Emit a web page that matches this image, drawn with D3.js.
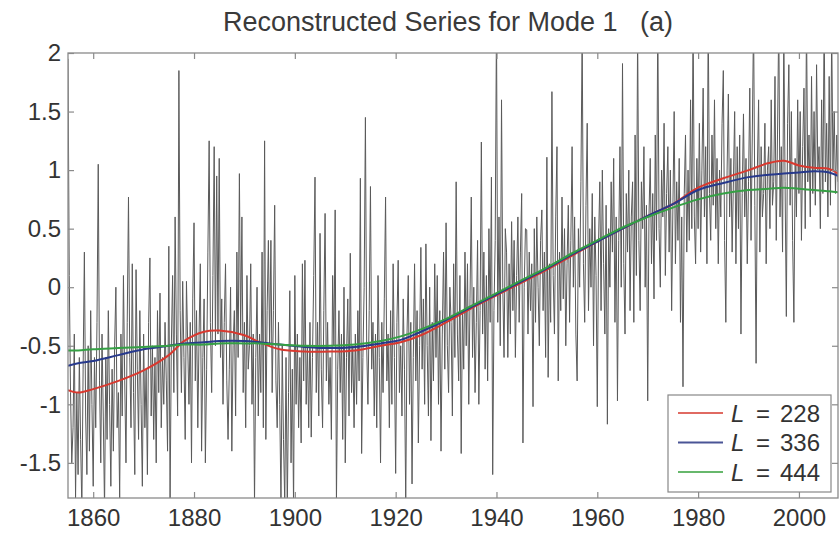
<!DOCTYPE html>
<html>
<head>
<meta charset="utf-8">
<script src="https://cdn.jsdelivr.net/npm/d3@7"></script>
<style>
  html, body { margin: 0; padding: 0; background: #fff; }
  svg { display: block; font-family: "Liberation Sans", Arial, Helvetica, sans-serif; }
</style>
</head>
<body>
<svg id="chart" width="840" height="536"></svg>
<script>
// ---- data ---------------------------------------------------------------
const chartTitle = "Reconstructed Series for Mode 1   (a)";
const xTicks = [1860, 1880, 1900, 1920, 1940, 1960, 1980, 2000];
const yTicks = [-1.5, -1, -0.5, 0, 0.5, 1, 1.5, 2];
const yTickLabels = ["-1.5", "-1", "-0.5", "0", "0.5", "1", "1.5", "2"];

// reconstructed series, four samples per year starting 1855.0
const seriesStart = 1855;
const samplesPerYear = 4;
const series = [
  // 1855-1859
  1.95, 0.1, -0.9, -1.5,  -1.2, -0.4, -1.8, -0.9,  -1.6, -0.6, -1.3, -1.9,  -0.7, 0.3, -1.1, -1.6,  -0.5, -1.4, -0.2, -1.0,
  // 1860-1864
  -1.7, -0.6, -1.2, -0.3,  1.05, -0.8, -1.5, -0.4,  -1.1, -1.9, -0.6, -1.3,  -0.2, -1.0, -1.7, -0.7,  -1.4, -0.5, 0.0, -1.2,
  // 1865-1869
  -0.9, -1.8, -0.4, -1.1,  0.1, -0.8, -1.5, -0.3,  0.77, -0.6, -1.2, 0.2,  -0.9, -1.6, 0.15, -0.7,  -1.3, -0.2, -1.0, -1.7,
  // 1870-1874
  -0.4, -1.2, -0.7, -1.6,  -0.3, 0.25, -1.1, -0.5,  -1.3, -0.6, -1.5, -0.2,  -0.9, -0.05, -1.2, -0.6,  -1.0, -0.3, -0.8, -1.4,
  // 1875-1879
  0.35, -1.85, -0.5, 0.1,  -0.9, 0.6, -0.4, -1.1,  1.85, -0.2, -0.9, 0.05,  -0.6, -1.3, 0.05, -0.5,  -1.0, -0.3, -1.5, -0.1,
  // 1880-1884
  0.55, -0.8, -0.2, -1.2,  -0.4, 0.2, -1.4, -0.6,  -0.1, -1.5, -0.7, 0.3,  1.25, -0.3, -0.9, 0.1,  1.2, -0.5, 0.95, -0.4,
  // 1885-1889
  1.1, -0.6, -0.1, -1.0,  -0.3, 0.2, -0.8, -1.3,  -0.7, 0.0, -1.4, -0.5,  -0.2, -1.1, 0.3, -0.6,  0.97, -0.4, 0.6, -0.9,
  // 1890-1894
  -0.3, -1.2, 0.1, -0.7,  -0.5, 0.2, -1.0, -0.4,  -1.85, -0.6, 0.0, -1.1,  -0.4, -0.9, 0.3, -1.2,  1.25, -1.3, -0.2, 0.4,
  // 1895-1899
  -0.5, 0.4, -0.9, -0.2,  0.7, -0.8, -1.2, -0.3,  -1.0, -1.85, -0.5, -1.3,  -1.85, -0.6, -1.9, -0.9,  -0.03, -1.5, -0.7, -1.9,
  // 1900-1904
  0.1, -1.0, -0.4, -1.2,  -0.6, -1.33, 0.2, -0.8,  0.23, -1.0, -0.5, -1.2,  -0.3, -1.28, -0.6, 0.1,  0.94, -0.9, -0.3, -1.1,
  // 1905-1909
  0.46, -0.7, -1.2, -0.2,  0.63, -0.8, -0.3, -1.0,  -0.6, -1.3, 0.1, -0.5,  0.66, -1.85, -0.7, -0.2,  -0.9, -0.4, -1.3, 0.0,
  // 1910-1914
  -1.5, -0.6, -0.1, -1.1,  0.29, -0.9, -0.5, -1.2,  -0.4, -1.0, -0.2, -0.8,  0.93, -1.42, -0.6, 0.0,  1.45, -0.5, -1.0, -0.2,
  // 1915-1919
  0.86, -0.7, -0.3, -1.1,  -0.4, -1.2, 0.1, -0.6,  -1.5, -0.3, -0.9, -0.1,  0.77, -0.8, -0.4, -1.2,  -0.2, -1.0, 0.2, -0.6,
  // 1920-1924
  -1.59, -0.3, 0.23, -0.9,  -0.5, -1.1, -0.1, -0.7,  -1.85, -0.4, 0.1, -1.0,  -0.3, -1.68, -0.6, 0.2,  -0.8, -0.2, -1.33, -0.5,
  // 1925-1929
  0.34, -0.7, -0.1, -1.0,  0.37, -0.5, -1.1, 0.0,  -1.31, -0.3, -0.8, 0.2,  -0.6, 0.1, -1.0, -0.2,  -1.4, -0.4, 0.3, -0.7,
  // 1930-1934
  0.55, -0.5, -0.9, 0.0,  -0.3, -1.1, 0.2, -0.6,  0.9, -0.4, -0.8, 0.1,  -1.42, -0.2, -0.7, 0.3,  -0.5, 0.2, -1.0, -0.1,
  // 1935-1939
  0.77, -0.6, 0.0, -0.9,  -0.3, 0.4, -1.0, -0.2,  1.24, -0.4, 0.3, -0.7,  0.1, -0.8, 0.5, -0.3,  0.94, -1.6, -0.2, 0.4,
  // 1940-1944
  2.3, -0.3, 0.6, -0.5,  1.6, 0.0, -0.6, 0.5,  0.3, -0.6, 0.2, -0.4,  0.56, -0.2, 0.4, -0.6,  0.1, 0.6, -0.3, 0.3,
  // 1945-1949
  0.8, -1.33, 0.0, 0.5,  0.49, -0.4, 0.3, -0.2,  0.2, -1.02, 0.5, -0.3,  0.6, 0.0, -0.5, 0.4,  0.66, -0.2, 0.3, -0.6,
  // 1950-1954
  1.11, -0.77, 0.2, -0.3,  1.67, 0.1, -0.4, 0.6,  1.2, -0.8, 0.3, -0.2,  0.77, -0.1, 0.5, -0.5,  0.2, 0.7, -0.3, 0.4,
  // 1955-1959
  1.2, 0.0, 0.6, -0.4,  -0.8, 0.5, 0.0, 0.9,  2.2, 0.2, -0.3, 0.7,  1.4, -0.2, 0.5, 0.0,  0.8, -0.5, 0.6, 0.1,
  // 1960-1964
  -1.02, 0.4, 0.9, -0.2,  1.0, 0.2, -0.4, 0.7,  -1.17, 0.5, 0.0, 0.9,  0.3, 1.1, -0.3, 0.6,  -0.97, 0.4, 1.2, 0.0,
  // 1965-1969
  1.91, 0.2, -0.4, 0.8,  0.3, 1.0, -0.2, 0.6,  0.9, -0.3, 1.3, 0.1,  2.2, 0.4, -0.2, 0.9,  0.5, 1.2, 0.0, 0.7,
  // 1970-1974
  -0.97, 0.6, 1.1, 0.2,  0.8, -0.1, 1.3, 0.4,  2.3, 0.5, 0.0, 1.0,  0.6, 1.4, 0.1, 0.8,  1.2, 0.3, 1.0, -0.2,
  // 1975-1979
  0.7, 1.5, 0.2, 0.9,  0.4, 1.1, -0.3, 0.6,  -0.85, 0.8, 1.3, 0.3,  1.0, 0.4, 1.6, 0.5,  2.3, 0.6, 0.2, 1.1,
  // 1980-1984
  0.5, 1.4, 0.3, 1.0,  1.7, 0.6, 1.2, 0.2,  2.3, 0.8, 0.4, 1.3,  0.7, 1.6, 0.5, 1.1,  0.2, 1.0, 0.6, 1.4,
  // 1985-1989
  1.85, 0.4, -0.3, 1.0,  1.65, 0.6, 1.1, 0.3,  0.9, 1.5, 0.2, 1.2,  0.5, 1.3, -0.4, 0.8,  1.48, 0.6, 1.1, 0.2,
  // 1990-1994
  0.9, 1.7, 0.4, 1.3,  2.3, 0.7, -0.65, 1.0,  1.6, 0.3, 1.2, 0.6,  0.8, 1.4, 0.2, 1.0,  1.2, 0.5, 1.6, 0.7,
  // 1995-1999
  0.9, 1.8, 0.4, 1.3,  2.3, 0.6, 1.2, 0.3,  2.2, 0.9, -0.25, 1.4,  1.9, 0.7, 1.5, 0.4,  -0.3, 1.1, 0.6, 1.6,
  // 2000-2004
  0.8, 1.5, 0.4, 1.2,  1.7, 0.5, 2.3, 0.9,  1.3, 0.6, 1.8, 0.8,  1.5, 0.7, 1.9, 1.0,  1.2, 0.5, 1.6, 0.8,
  // 2005-2007
  2.3, 0.9, 1.4, 0.6,  1.8, 0.7, 2.2, 1.0,  1.5, 0.8, 1.3, 0.9
];

// smoothed reconstructions for three window lengths
const smoothYears = [1855, 1857, 1860, 1865, 1870, 1875, 1878, 1882, 1885, 1890, 1893, 1897,
  1902, 1907, 1912, 1917, 1921, 1925, 1930, 1935, 1940, 1945, 1950, 1955, 1960, 1965,
  1970, 1975, 1980, 1985, 1990, 1994, 1997, 2000, 2003, 2006, 2007.75];
const l228 = [-0.88, -0.90, -0.87, -0.80, -0.71, -0.58, -0.46, -0.38, -0.37, -0.41, -0.47, -0.53,
  -0.55, -0.55, -0.54, -0.50, -0.47, -0.41, -0.30, -0.18, -0.07, 0.04, 0.15, 0.27, 0.39, 0.50,
  0.61, 0.71, 0.85, 0.93, 1.00, 1.06, 1.08, 1.04, 1.02, 1.01, 0.97];
const l336 = [-0.67, -0.65, -0.63, -0.58, -0.53, -0.50, -0.48, -0.47, -0.46, -0.46, -0.47, -0.49,
  -0.51, -0.52, -0.51, -0.48, -0.45, -0.38, -0.28, -0.17, -0.06, 0.05, 0.16, 0.28, 0.39, 0.50,
  0.61, 0.71, 0.83, 0.89, 0.94, 0.96, 0.97, 0.98, 0.99, 0.98, 0.95];
const l444 = [-0.54, -0.54, -0.53, -0.52, -0.51, -0.50, -0.49, -0.49, -0.48, -0.48, -0.48, -0.49,
  -0.50, -0.50, -0.49, -0.46, -0.42, -0.36, -0.27, -0.16, -0.05, 0.06, 0.17, 0.29, 0.40, 0.51,
  0.60, 0.68, 0.75, 0.80, 0.83, 0.84, 0.85, 0.84, 0.83, 0.82, 0.81];
const windowLengths = ["228", "336", "444"];
const lineColors = ["#d8392f", "#27398c", "#35a044"];
const legendColors = ["#e06a62", "#4a5596", "#67b86c"];

// ---- layout -------------------------------------------------------------
const plot = { left: 68, right: 838, top: 53, bottom: 498 };
const svg = d3.select("#chart");

const x = d3.scaleLinear().domain([1855, 2007.75]).range([plot.left, plot.right]);
const y = d3.scaleLinear().domain([-1.8, 2]).range([plot.bottom, plot.top]);

svg.append("defs").append("clipPath").attr("id", "plot-clip")
  .append("rect")
  .attr("x", plot.left).attr("y", plot.top)
  .attr("width", plot.right - plot.left).attr("height", plot.bottom - plot.top);

// title
svg.append("text")
  .attr("x", 448).attr("y", 31)
  .attr("text-anchor", "middle")
  .style("white-space", "pre")
  .attr("font-size", 27)
  .attr("fill", "#3a3a3a")
  .text(chartTitle);

// noisy reconstructed series
const seriesPoints = series.map((v, i) => [seriesStart + i / samplesPerYear, v]);
const g = svg.append("g").attr("clip-path", "url(#plot-clip)");
g.append("path")
  .datum(seriesPoints)
  .attr("fill", "none")
  .attr("stroke", "#5a5a5a")
  .attr("stroke-width", 1)
  .attr("stroke-linejoin", "round")
  .attr("d", d3.line().x(d => x(d[0])).y(d => y(d[1])));

// smoothed curves
const smoothLine = d3.line()
  .x(d => x(d[0])).y(d => y(d[1]))
  .curve(d3.curveCatmullRom.alpha(0.5));
[l228, l336, l444].forEach((vals, k) => {
  g.append("path")
    .datum(vals.map((v, i) => [smoothYears[i], v]))
    .attr("fill", "none")
    .attr("stroke", lineColors[k])
    .attr("stroke-width", 2)
    .attr("d", smoothLine);
});

// axes (box with inward ticks)
const axisColor = "#8a8a8a";
const labelColor = "#333";

function styleAxis(sel) {
  sel.select(".domain").remove();
  sel.selectAll(".tick line").attr("stroke", axisColor).attr("stroke-width", 1.2);
  sel.selectAll(".tick text").attr("fill", labelColor).attr("font-size", 24)
    .attr("font-family", "'Liberation Sans', Arial, sans-serif");
}

svg.append("g")
  .attr("transform", `translate(0,${plot.bottom})`)
  .call(d3.axisBottom(x).tickValues(xTicks).tickFormat(d3.format("d"))
    .tickSizeInner(-6).tickSizeOuter(0).tickPadding(11))
  .call(styleAxis);

svg.append("g")
  .attr("transform", `translate(0,${plot.top})`)
  .call(d3.axisTop(x).tickValues(xTicks).tickFormat("")
    .tickSizeInner(-6).tickSizeOuter(0))
  .call(styleAxis);

svg.append("g")
  .attr("transform", `translate(${plot.left},0)`)
  .call(d3.axisLeft(y).tickValues(yTicks).tickFormat((d, i) => yTickLabels[i])
    .tickSizeInner(-6).tickSizeOuter(0).tickPadding(7))
  .call(styleAxis);

svg.append("g")
  .attr("transform", `translate(${plot.right},0)`)
  .call(d3.axisRight(y).tickValues(yTicks).tickFormat("")
    .tickSizeInner(-6).tickSizeOuter(0))
  .call(styleAxis);

svg.append("rect")
  .attr("x", plot.left).attr("y", plot.top)
  .attr("width", plot.right - plot.left).attr("height", plot.bottom - plot.top)
  .attr("fill", "none").attr("stroke", axisColor).attr("stroke-width", 1.3);

// legend
const legend = svg.append("g");
legend.append("rect")
  .attr("x", 668).attr("y", 395).attr("width", 163).attr("height", 97)
  .attr("fill", "#fff").attr("stroke", "#888").attr("stroke-width", 1.2);
windowLengths.forEach((lbl, k) => {
  const cy = 413 + k * 29.5;
  legend.append("line")
    .attr("x1", 678).attr("x2", 723).attr("y1", cy).attr("y2", cy)
    .attr("stroke", legendColors[k]).attr("stroke-width", 2);
  legend.append("text")
    .attr("x", 731).attr("y", cy + 8.5)
    .attr("font-size", 24).attr("font-style", "italic").attr("fill", labelColor)
    .text("L");
  legend.append("text")
    .attr("x", 756).attr("y", cy + 8.5)
    .attr("font-size", 24).attr("fill", labelColor)
    .text("=");
  legend.append("text")
    .attr("x", 780).attr("y", cy + 8.5)
    .attr("font-size", 24).attr("fill", labelColor)
    .text(lbl);
});
</script>
</body>
</html>
